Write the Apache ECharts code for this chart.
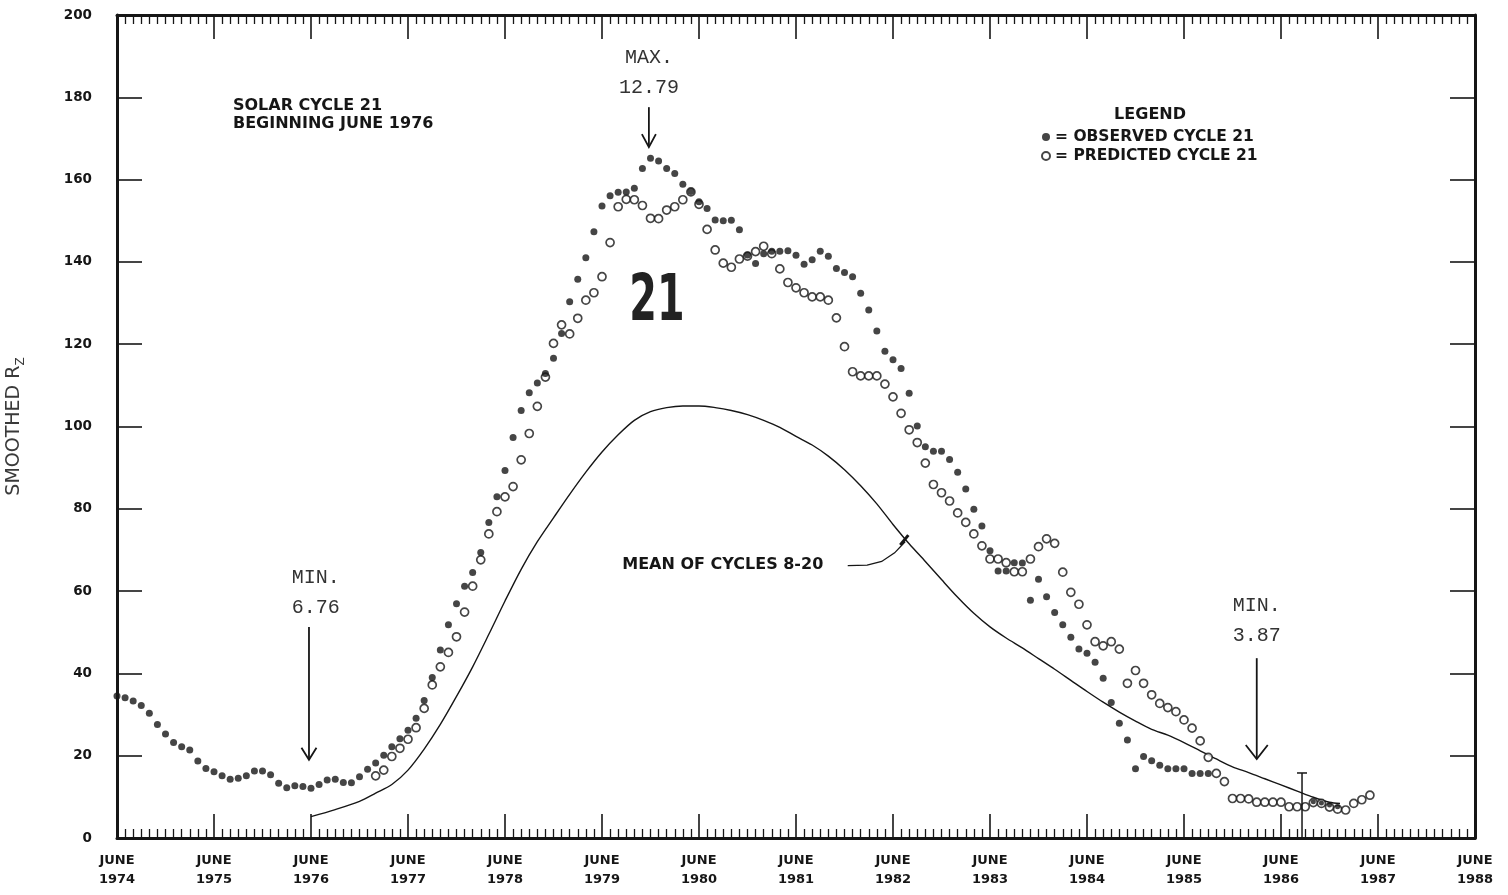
<!DOCTYPE html>
<html>
<head>
<meta charset="utf-8">
<script src="https://cdn.jsdelivr.net/npm/echarts@6/dist/echarts.min.js"></script>
<style>
html,body{margin:0;padding:0;background:#fff;}
#chart{width:1508px;height:895px;}
</style>
</head>
<body>
<div id="chart"></div>
<script>
// ---------------- DATA ----------------
// x = months counted from June 1974
const xTickLabels = ['JUNE\n1974','JUNE\n1975','JUNE\n1976','JUNE\n1977','JUNE\n1978','JUNE\n1979','JUNE\n1980',
  'JUNE\n1981','JUNE\n1982','JUNE\n1983','JUNE\n1984','JUNE\n1985','JUNE\n1986','JUNE\n1987','JUNE\n1988'];
const yTickValues = [0,20,40,60,80,100,120,140,160,180,200];

// Observed cycle 21 (filled dots), monthly from June 1974
const observedStart = 0;
const observedValues = [
  34.5,34.1,33.3,32.2,30.3,27.6,25.3,23.2,22.2,21.4,18.7,16.9,
  16.1,15.1,14.3,14.5,15.1,16.3,16.3,15.4,13.3,12.2,12.7,12.5,
  12.1,13.0,14.1,14.3,13.5,13.4,14.9,16.7,18.2,20.1,22.2,24.1,
  26.2,29.1,33.4,39.0,45.7,51.8,56.9,61.2,64.5,69.4,76.7,82.9,
  89.3,97.3,103.9,108.2,110.6,112.9,116.6,122.6,130.3,135.8,141.0,147.3,
  153.6,156.1,156.9,157.0,157.9,162.7,165.2,164.5,162.7,161.5,158.9,157.1,
  154.6,153.0,150.2,150.0,150.1,147.8,141.7,139.6,142.0,142.6,142.6,142.7,
  141.6,139.4,140.5,142.6,141.4,138.4,137.4,136.4,132.4,128.3,123.2,118.3,
  116.2,114.1,108.1,100.1,95.1,94.0,94.0,92.0,88.9,84.8,79.9,75.8,
  69.8,64.9,64.9,66.9,66.8,57.8,62.9,58.6,54.8,51.8,48.8,45.9,
  44.9,42.7,38.8,32.9,27.9,23.8,16.8,19.8,18.8,17.7,16.8,16.8,
  16.8,15.7,15.7,15.7
];
// a few later observed dots (late 1986)
const observedLateStart = 148;
const observedLateValues = [8.8,8.5,8.0,7.6];

// Predicted cycle 21 (open circles), monthly from Feb 1977
const predictedStart = 32;
const predictedValues = [
  15.1,16.5,19.8,21.8,24.0,26.8,31.5,37.2,41.6,45.1,48.9,54.9,
  61.2,67.6,73.9,79.3,82.9,85.4,91.9,98.3,104.9,112.0,120.2,124.7,
  122.5,126.3,130.7,132.5,136.4,144.7,153.4,155.2,155.1,153.7,150.6,150.5,
  152.6,153.4,155.1,157.0,154.0,147.9,142.9,139.7,138.7,140.7,141.4,142.5,
  143.8,142.0,138.3,135.0,133.7,132.5,131.5,131.5,130.7,126.4,119.4,113.3,
  112.3,112.3,112.3,110.3,107.2,103.2,99.2,96.1,91.1,85.9,83.9,81.9,
  79.0,76.7,73.9,71.0,67.8,67.8,66.9,64.7,64.7,67.8,70.8,72.7,
  71.6,64.6,59.7,56.8,51.8,47.7,46.7,47.7,45.9,37.6,40.7,37.6,
  34.8,32.7,31.7,30.7,28.7,26.7,23.6,19.6,15.7,13.7,9.6,9.6,
  9.5,8.7,8.7,8.7,8.7,7.6,7.6,7.6,8.6,8.4,7.5,7.0,
  6.8,8.4,9.3,10.4
];

// Mean of cycles 8-20 (solid curve)
const meanMonths = [24,27,30,32,34,36,38,40,42,44,46,48,50,52,54,56,58,60,62,64,66,68,70,72,74,76,78,80,82,84,86,88,90,92,94,96,98,100,102,104,106,108,110,112,114,116,118,120,122,124,126,128,130,132,134,136,138,140,142,144,146,148,150,151.3];
const meanValues = [5.2,6.9,8.9,10.9,13.0,16.5,21.6,27.6,34.4,41.6,49.5,57.6,65.3,72.0,77.8,83.5,88.9,93.8,98.0,101.5,103.6,104.6,105.0,105.0,104.6,103.9,102.9,101.5,99.8,97.6,95.5,92.8,89.5,85.6,81.2,76.2,71.5,67.2,62.8,58.5,54.6,51.3,48.6,46.2,43.6,41.0,38.3,35.6,33.0,30.6,28.4,26.4,25.0,23.2,21.2,19.2,17.3,15.9,14.4,12.9,11.4,9.9,8.7,8.4];

// error bar near the minimum
const errorBarMonth = [146.6];
const errorBarLow = [0];
const errorBarHigh = [15.8];

// ---------------- BUILD ----------------
const obsData = observedValues.map((v,i)=>[observedStart+i, v]);
const obsLateData = observedLateValues.map((v,i)=>[observedLateStart+i, v]);
const predData = predictedValues.map((v,i)=>[predictedStart+i, v]);
const meanData = meanMonths.map((m,i)=>[m, meanValues[i]]);
const errData = errorBarMonth.map((m,i)=>[m, errorBarLow[i], errorBarHigh[i]]);

const INK = '#161616';
const chart = echarts.init(document.getElementById('chart'), null, {renderer:'canvas'});

const xBase = {
  type:'value', min:0, max:168, interval:12,
  axisLine:{show:true, onZero:false, lineStyle:{color:INK, width:3}},
  axisTick:{show:true, inside:true, length:24, lineStyle:{color:INK, width:1.6}},
  minorTick:{show:true, splitNumber:12, length:9, lineStyle:{color:INK, width:1.3}},
  splitLine:{show:false}, minorSplitLine:{show:false}
};
const yBase = {
  type:'value', min:0, max:200, interval:20,
  axisLine:{show:true, onZero:false, lineStyle:{color:INK, width:3}},
  axisTick:{show:true, inside:true, length:25, lineStyle:{color:INK, width:1.6}},
  splitLine:{show:false}
};

const option = {
  backgroundColor:'#fff',
  animation:false,
  grid:{left:117, right:33, top:15, bottom:57, containLabel:false, outerBoundsMode:'none'},
  legend:{
    data:['OBSERVED CYCLE 21','PREDICTED CYCLE 21'],
    orient:'vertical', left:1036, top:124,
    itemWidth:8, itemHeight:8, itemGap:3,
    formatter: n => '= ' + n,
    textStyle:{fontFamily:'DejaVu Sans', fontWeight:'bold', fontSize:15.5, color:INK, padding:[0,0,0,0]}
  },
  xAxis:[
    Object.assign({}, xBase, {position:'bottom',
      axisLabel:{show:true, margin:13, color:INK, fontFamily:'DejaVu Sans', fontWeight:'bold', fontSize:13, lineHeight:19,
        formatter: v => xTickLabels[Math.round(v/12)] || ''}}),
    Object.assign({}, xBase, {position:'top', axisLabel:{show:false}})
  ],
  yAxis:[
    Object.assign({}, yBase, {position:'left',
      axisLabel:{show:true, margin:25, color:INK, fontFamily:'DejaVu Sans', fontWeight:'bold', fontSize:13.5,
        formatter: v => yTickValues.indexOf(v) >= 0 ? String(v) : ''},
      name:'{a|SMOOTHED R}{s|Z}', nameLocation:'middle', nameRotate:90, nameGap:90,
      nameTextStyle:{rich:{
        a:{fontFamily:'DejaVu Sans', fontSize:19, color:'#3a3a3a', lineHeight:26},
        s:{fontFamily:'DejaVu Sans', fontSize:12, color:'#3a3a3a', lineHeight:26, verticalAlign:'bottom'}
      }}}),
    Object.assign({}, yBase, {position:'right', axisLabel:{show:false}})
  ],
  series:[
    {name:'MEAN', type:'line', data:meanData, smooth:0.3, showSymbol:false, xAxisIndex:0, yAxisIndex:0,
      lineStyle:{color:INK, width:1.4}, z:2},
    {name:'PREDICTED CYCLE 21', type:'scatter', data:predData, symbol:'circle', symbolSize:8,
      itemStyle:{color:'#fff', borderColor:INK, borderWidth:1.7}, z:3},
    {name:'OBSERVED CYCLE 21', type:'scatter', data:obsData, symbol:'circle', symbolSize:7,
      itemStyle:{color:INK}, z:4},
    {name:'OBSERVED LATE', type:'scatter', data:obsLateData, symbol:'circle', symbolSize:5,
      itemStyle:{color:INK}, z:4},
    {name:'ERR', type:'custom', data:errData, z:5,
      renderItem:(params, api) => {
        const p0 = api.coord([api.value(0), api.value(1)]);
        const p1 = api.coord([api.value(0), api.value(2)]);
        return {type:'group', children:[
          {type:'line', shape:{x1:p0[0], y1:p0[1], x2:p1[0], y2:p1[1]}, style:{stroke:INK, lineWidth:1.5}},
          {type:'line', shape:{x1:p1[0]-5, y1:p1[1], x2:p1[0]+5, y2:p1[1]}, style:{stroke:INK, lineWidth:1.5}}
        ]};
      }}
  ]
};
chart.setOption(option);

// ---------------- ANNOTATIONS (anchored in data units) ----------------
const P = (m, v) => chart.convertToPixel({seriesIndex:0}, [m, v]);
const mono = '20px "Liberation Mono", "DejaVu Sans Mono", monospace';
const bold = 'bold 16px "DejaVu Sans", sans-serif';

function txt(m, v, text, font, align, vAlign, lh, fill, scaleX) {
  const p = P(m, v);
  return {type:'text', z:100, x:p[0], y:p[1], scaleX:scaleX||1, scaleY:1,
    style:{x:0, y:0, text:text, font:font, fill:fill||INK,
    align:align, textAlign:align, verticalAlign:vAlign, textVerticalAlign:vAlign, lineHeight:lh||20}};
}
function arrow(m, vTop, vBottom, headW, headH) {
  const a = P(m, vTop), b = P(m, vBottom);
  return [
    {type:'line', z:100, shape:{x1:a[0], y1:a[1], x2:b[0], y2:b[1]}, style:{stroke:INK, lineWidth:1.8}},
    {type:'polyline', z:100, shape:{points:[[b[0]-headW/2, b[1]-headH],[b[0], b[1]],[b[0]+headW/2, b[1]-headH]]},
      style:{stroke:INK, lineWidth:1.8, fill:null}}
  ];
}
function poly(pts, w) {
  return {type:'polyline', z:100, shape:{points:pts.map(q=>P(q[0], q[1]))}, style:{stroke:INK, lineWidth:w||1.4, fill:null}};
}

const graphics = [];
graphics.push(txt(14.35, 180.0, 'SOLAR CYCLE 21\nBEGINNING JUNE 1976', bold, 'left', 'top', 18));
graphics.push(txt(65.8, 185.9, 'MAX.\n12.79', mono, 'center', 'middle', 30, '#333'));
graphics.push(...arrow(65.8, 177.6, 167.9, 14, 13));
graphics.push(txt(66.8, 130.0, '21', 'bold 64px "DejaVu Sans", sans-serif', 'center', 'middle', 64, '#222', 0.62));
graphics.push(txt(24.6, 59.5, 'MIN.\n6.76', mono, 'center', 'middle', 30, '#333'));
graphics.push(...arrow(23.75, 51.3, 19.0, 15, 12));
graphics.push(txt(141.0, 52.7, 'MIN.\n3.87', mono, 'center', 'middle', 30, '#333'));
graphics.push(...arrow(141.0, 43.7, 19.2, 22, 14));
graphics.push(txt(127.8, 175.7, 'LEGEND', bold, 'center', 'middle', 18));
graphics.push(txt(62.5, 66.3, 'MEAN OF CYCLES 8-20', bold, 'left', 'middle', 18));
graphics.push(poly([[90.4, 66.2],[92.8, 66.3],[94.6, 67.2],[96.2, 69.3],[97.5, 72.0]], 1.3));
graphics.push(poly([[96.9, 71.2],[97.9, 73.6]], 3));

chart.setOption({graphic: graphics});
</script>
</body>
</html>
